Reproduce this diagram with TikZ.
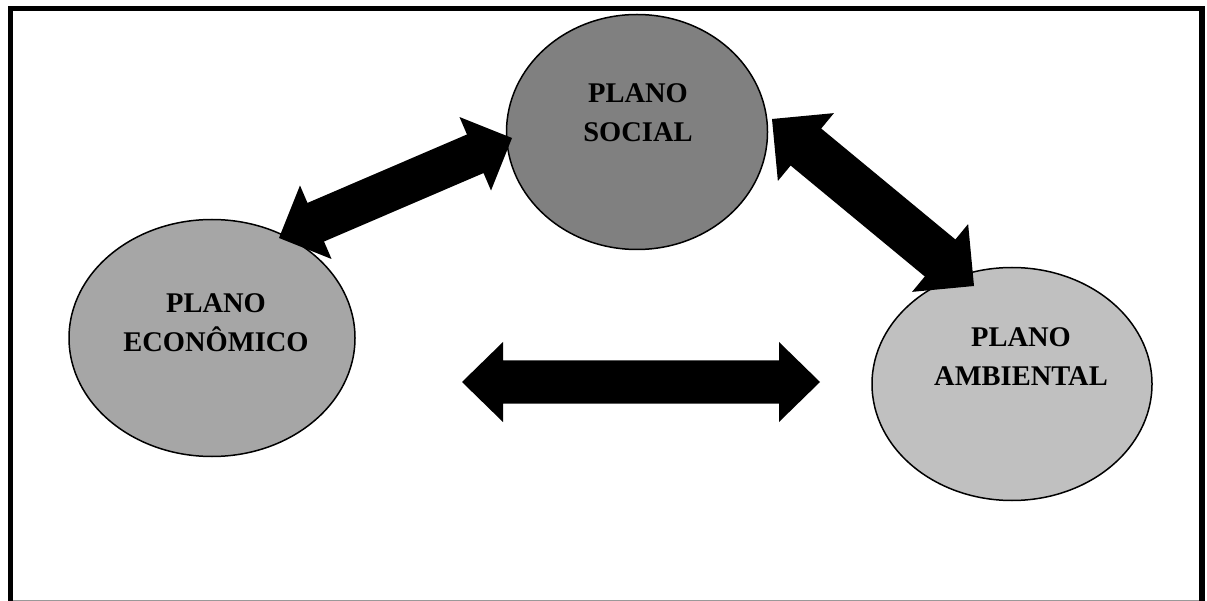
\documentclass[tikz,border=0pt]{standalone}
\usepackage{fontspec}
\setmainfont{Liberation Serif}
\usetikzlibrary{calc,shapes.geometric}
\definecolor{socgray}{HTML}{808080}
\definecolor{ecogray}{HTML}{A6A6A6}
\definecolor{ambgray}{HTML}{C0C0C0}
\newcommand\blockarrow[5]{% from, to, half shaft, half head, head length
  \fill[black, line join=round]
    (#1) -- ($($(#1)!#5!(#2)$)!#4!90:(#2)$) -- ($($(#1)!#5!(#2)$)!#3!90:(#2)$)
    -- ($($(#2)!#5!(#1)$)!#3!-90:(#1)$) -- ($($(#2)!#5!(#1)$)!#4!-90:(#1)$)
    -- (#2) -- ($($(#2)!#5!(#1)$)!#4!90:(#1)$) -- ($($(#2)!#5!(#1)$)!#3!90:(#1)$)
    -- ($($(#1)!#5!(#2)$)!#3!-90:(#2)$) -- ($($(#1)!#5!(#2)$)!#4!-90:(#2)$) -- cycle;
}
\begin{document}
\begin{tikzpicture}[x=1pt,y=-1pt,
  plano/.style={ellipse, draw=black, line width=1.5pt, inner sep=0pt},
  lbl/.style={align=center, inner sep=0pt, font=\fontsize{28.5}{39}\selectfont\bfseries}]
\useasboundingbox (0,0) rectangle (1207,601);
\fill[white] (0,0) rectangle (1207,601);
% frame
\draw[line width=5.5pt, line join=miter] (10.5,601) -- (10.5,8.5) -- (1202,8.5) -- (1202,601);
\draw[line width=1.2pt, color=gray!80] (13,600.2) -- (1199,600.2);
% ellipses
\node[plano, fill=socgray, minimum width=261pt, minimum height=235pt] (soc) at (637,132) {};
\node[plano, fill=ecogray, minimum width=286pt, minimum height=237pt] (eco) at (212,338) {};
\node[plano, fill=ambgray, minimum width=280pt, minimum height=233pt] (amb) at (1012,384) {};
% labels
\node[lbl] (socT) at (638,113) {PLANO\\SOCIAL};
\node[lbl] (ecoT) at (216,323) {PLANO\\ECONÔMICO};
\node[lbl] (ambT) at (1021,356.5) {PLANO\\AMBIENTAL};
% arrow end points
\coordinate (a1s) at (279,238);
\coordinate (a1e) at (512,138);
\coordinate (a2s) at (772,119);
\coordinate (a2e) at (974,286);
\coordinate (a3s) at (462,382);
\coordinate (a3e) at (820,382);
\blockarrow{a1s}{a1e}{21pt}{40pt}{40pt}
\blockarrow{a2s}{a2e}{24pt}{44pt}{44pt}
\blockarrow{a3s}{a3e}{21.5pt}{40pt}{41pt}
\end{tikzpicture}
\end{document}
